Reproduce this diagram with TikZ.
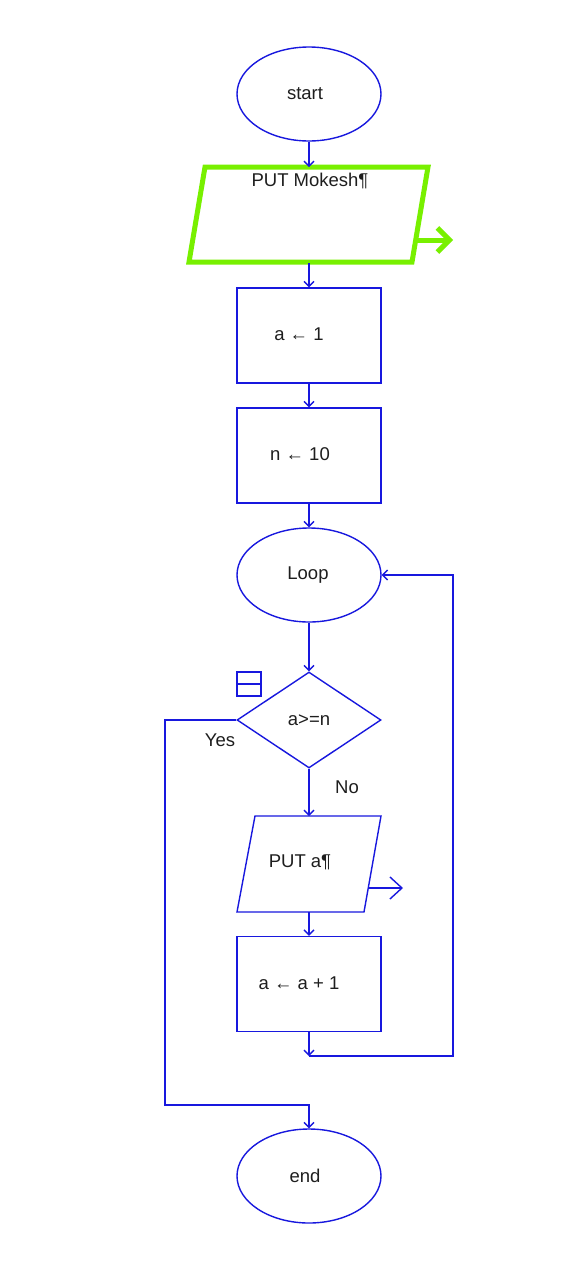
\documentclass[tikz,border=0pt]{standalone}
\usepackage{fontspec}
\setmainfont{Liberation Sans}
\usetikzlibrary{shapes.geometric,arrows.meta}
\definecolor{flowblue}{RGB}{24,24,222}
\definecolor{selgreen}{RGB}{120,240,0}
\definecolor{txt}{RGB}{30,30,30}
\tikzset{
  x=1pt, y=-1pt,
  every node/.style={font=\fontsize{18.5}{21}\selectfont, text=txt},
  flow/.style={draw=flowblue, line width=1.4pt},
  term/.style={flow, ellipse, minimum width=144pt, minimum height=94pt, inner sep=0pt},
  procbox/.style={flow, rectangle, minimum width=144pt, minimum height=95pt, inner sep=0pt},
  decide/.style={flow, diamond, minimum width=144pt, minimum height=96pt, inner sep=0pt, aspect=1.5},
  conn/.style={draw=flowblue, line width=1.4pt, -{Straight Barb[length=5pt,width=10pt,line width=1.3pt]}},
  plain/.style={draw=flowblue, line width=1.4pt},
  outarrow/.style={draw=flowblue, line width=1.4pt, -{Straight Barb[length=12pt,width=22pt,line width=1.4pt]}},
  greenout/.style={draw=selgreen, line width=5pt, -{Straight Barb[length=12pt,width=24pt,line width=5pt]}},
}
\begin{document}
\begin{tikzpicture}
\useasboundingbox (0,0) rectangle (576,1280);
\fill[white] (0,0) rectangle (576,1280);

% terminals and boxes
\node[term] (start) at (309,94) {};
\node (starttext) at (305,94) {start};
\node[procbox] (seta) at (309,335.5) {};
\node (setatext) at (299,334) {a ← 1};
\node[procbox] (setn) at (309,455.5) {};
\node (setntext) at (300,454) {n ← 10};
\node[term] (loop) at (309,575) {};
\node (looptext) at (308,575) {Loop};
\node[decide] (test) at (309,720) {a>=n};
\node[procbox] (inc) at (309,984) {};
\node (inctext) at (299,983) {a ← a + 1};
\node[term] (stop) at (309,1176) {};
\node (stoptext) at (305,1176) {end};

% selected output block (green)
\coordinate (g1) at (205,167);
\coordinate (g2) at (428,167);
\coordinate (g3) at (412,262);
\coordinate (g4) at (189,262);
\draw[selgreen, line width=5pt, line join=miter, fill=white] (g1) -- (g2) -- (g3) -- (g4) -- cycle;
\node (puttext) at (310,181) {PUT Mokesh¶};
\coordinate (putmtop) at (309,167);
\coordinate (putmbot) at (309,263);
\coordinate (putmout) at (418,240);
\coordinate (putmend) at (453,240);
\draw[greenout] (putmout) -- (putmend);

% output block PUT a
\coordinate (p1) at (255,816);
\coordinate (p2) at (381,816);
\coordinate (p3) at (364,912);
\coordinate (p4) at (237,912);
\draw[flow, fill=white] (p1) -- (p2) -- (p3) -- (p4) -- cycle;
\node (putatext) at (300,862) {PUT a¶};
\coordinate (putatop) at (309,816);
\coordinate (putabot) at (309,912);
\coordinate (putaout) at (369,888);
\coordinate (putaend) at (403,888);
\draw[outarrow] (putaout) -- (putaend);

% small marker beside the decision
\node[flow, rectangle, minimum width=24pt, minimum height=24pt, inner sep=0pt] (mark) at (249,684) {};
\draw[plain] (mark.west) -- (mark.east);

% connectors
\draw[conn] (start.south) -- (putmtop);
\draw[conn] (putmbot) -- (seta.north);
\draw[conn] (seta.south) -- (setn.north);
\draw[conn] (setn.south) -- (loop.north);
\draw[conn] (loop.south) -- (test.north);
\draw[conn] (test.south) -- (putatop);
\draw[conn] (putabot) -- (inc.north);
\coordinate (joinpt) at (309,1056);
\draw[conn] (inc.south) -- (joinpt);
\coordinate (backr) at (453,1056);
\draw[conn] (joinpt) -- (backr) -- (backr |- loop.east) -- (loop.east);
\coordinate (yesl) at (165,720);
\coordinate (yesb) at (165,1105);
\draw[conn] (test.west) -- (yesl) -- (yesb) -- (stop.north |- yesb) -- (stop.north);

% branch labels
\node (yeslbl) at (220,740) {Yes};
\node (nolbl) at (347,787) {No};
\end{tikzpicture}
\end{document}
